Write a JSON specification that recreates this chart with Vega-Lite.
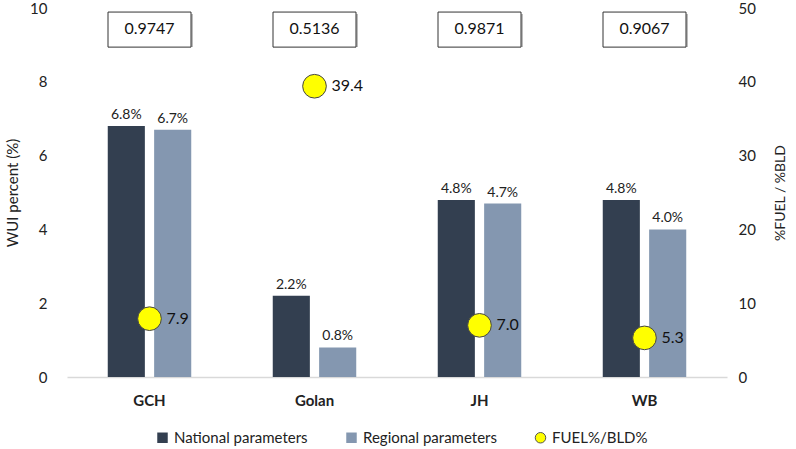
{
  "$schema": "https://vega.github.io/schema/vega-lite/v6.json",
  "width": 660,
  "height": 369,
  "autosize": "none",
  "padding": {"left": 67, "top": 8, "right": 69, "bottom": 72},
  "config": {
    "font": "Lato",
    "view": {"stroke": null},
    "axis": {"labelColor": "#222", "titleColor": "#222", "grid": false, "ticks": false, "labelFontSize": 15, "titleFontSize": 15, "titleFontWeight": "normal"},
    "legend": {"labelFontSize": 15, "labelColor": "#222"}
  },
  "datasets": {
    "bars": [
      {"region": "GCH", "series": "National parameters", "value": 6.8},
      {"region": "GCH", "series": "Regional parameters", "value": 6.7},
      {"region": "Golan", "series": "National parameters", "value": 2.2},
      {"region": "Golan", "series": "Regional parameters", "value": 0.8},
      {"region": "JH", "series": "National parameters", "value": 4.8},
      {"region": "JH", "series": "Regional parameters", "value": 4.7},
      {"region": "WB", "series": "National parameters", "value": 4.8},
      {"region": "WB", "series": "Regional parameters", "value": 4.0}
    ],
    "points": [
      {"region": "GCH", "series": "FUEL%/BLD%", "ratio": 7.9, "r": "0.9747"},
      {"region": "Golan", "series": "FUEL%/BLD%", "ratio": 39.4, "r": "0.5136"},
      {"region": "JH", "series": "FUEL%/BLD%", "ratio": 7.0, "r": "0.9871"},
      {"region": "WB", "series": "FUEL%/BLD%", "ratio": 5.3, "r": "0.9067"}
    ]
  },
  "encoding": {
    "x": {
      "field": "region",
      "type": "nominal",
      "sort": ["GCH", "Golan", "JH", "WB"],
      "scale": {"paddingInner": 0.494, "paddingOuter": 0.247},
      "axis": {"title": null, "labelAngle": 0, "labelFontWeight": "bold", "labelFontSize": 15, "labelPadding": 16, "domainColor": "#d9d9d9", "domainWidth": 1.5}
    }
  },
  "layer": [
    {
      "layer": [
        {
          "data": {"name": "bars"},
          "mark": {"type": "bar"},
          "encoding": {
            "xOffset": {"field": "series", "type": "nominal", "scale": {"paddingInner": 0.2}},
            "y": {
              "field": "value",
              "type": "quantitative",
              "scale": {"domain": [0, 10]},
              "axis": {"title": "WUI percent (%)", "values": [0, 2, 4, 6, 8, 10], "domain": false, "labelPadding": 20, "titlePadding": 9}
            },
            "color": {
              "field": "series",
              "type": "nominal",
              "scale": {
                "domain": ["National parameters", "Regional parameters", "FUEL%/BLD%"],
                "range": ["#333f50", "#8497b0", "#ffff00"]
              },
              "legend": {
                "title": null,
                "orient": "none",
                "direction": "horizontal",
                "legendX": 88,
                "legendY": 422,
                "columnPadding": 36,
                "symbolSize": 110,
                "encode": {
                  "symbols": {
                    "update": {
                      "shape": {"signal": "datum.label === 'FUEL%/BLD%' ? 'circle' : 'square'"},
                      "stroke": {"signal": "datum.label === 'FUEL%/BLD%' ? '#555' : null"},
                      "strokeWidth": {"value": 1}
                    }
                  }
                }
              }
            }
          }
        },
        {
          "data": {"name": "bars"},
          "transform": [{"calculate": "format(datum.value, '.1f') + '%'", "as": "label"}],
          "mark": {"type": "text", "baseline": "bottom", "dy": -4, "fontSize": 14, "color": "#222"},
          "encoding": {
            "xOffset": {"field": "series", "type": "nominal", "scale": {"paddingInner": 0.2}},
            "y": {"field": "value", "type": "quantitative"},
            "text": {"field": "label"},
            "detail": {"field": "series"}
          }
        },
        {
          "data": {"name": "points"},
          "mark": {"type": "bar", "width": 83, "fill": "#bbb", "xOffset": 2, "yOffset": 2},
          "encoding": {
            "y": {"datum": 9.89, "type": "quantitative"},
            "y2": {"datum": 8.94}
          }
        },
        {
          "data": {"name": "points"},
          "mark": {"type": "bar", "width": 83, "fill": "white", "stroke": "#333", "strokeWidth": 1},
          "encoding": {
            "y": {"datum": 9.89, "type": "quantitative"},
            "y2": {"datum": 8.94}
          }
        },
        {
          "data": {"name": "points"},
          "mark": {"type": "text", "fontSize": 16, "color": "#111"},
          "encoding": {
            "y": {"datum": 9.42, "type": "quantitative"},
            "text": {"field": "r"}
          }
        }
      ]
    },
    {
      "data": {"name": "points"},
      "encoding": {
        "y": {
          "field": "ratio",
          "type": "quantitative",
          "scale": {"domain": [0, 50]},
          "axis": {"title": "%FUEL / %BLD", "orient": "right", "titleAngle": 270, "values": [0, 10, 20, 30, 40, 50], "domain": false, "labelPadding": 11, "titlePadding": 32, "titleFontSize": 14}
        }
      },
      "layer": [
        {
          "mark": {"type": "circle", "size": 560, "opacity": 1, "stroke": "#444", "strokeWidth": 1},
          "encoding": {
            "color": {"field": "series", "type": "nominal"}
          }
        },
        {
          "mark": {"type": "text", "align": "left", "dx": 17, "fontSize": 16, "color": "#111"},
          "encoding": {
            "text": {"field": "ratio", "type": "quantitative", "format": ".1f"}
          }
        }
      ]
    }
  ],
  "resolve": {"scale": {"y": "independent"}}
}
